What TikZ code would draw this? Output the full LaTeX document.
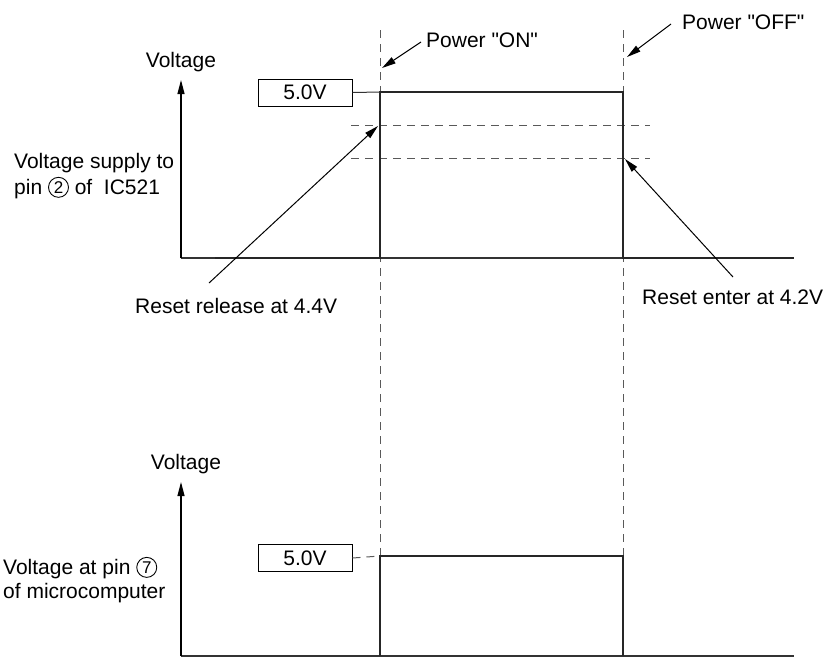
\documentclass[tikz,border=0pt]{standalone}
\usepackage{fontspec}
\setmainfont{Liberation Sans}[Ligatures=TeXOff]
\usetikzlibrary{arrows.meta}
\newcommand{\circd}[1]{\tikz[baseline={([yshift=-1.5pt]cd.base)}]\node[circle, draw, line width=0.9pt, inner sep=0pt, minimum size=20pt, font=\fontsize{17}{17}\selectfont] (cd) {#1};}
\begin{document}
\begin{tikzpicture}[x=1pt,y=-1pt, font=\fontsize{21}{25}\selectfont,
 sig/.style={line width=2.8pt, line join=miter, draw=black!85},
 thinln/.style={line width=1.1pt, draw=black!80},
 guide/.style={dash pattern=on 8pt off 6pt, line width=1pt, draw=black!65},
 lbl/.style={inner sep=0pt, anchor=west},
 vbox/.style={draw, line width=1pt, minimum width=94pt, minimum height=27pt, inner sep=0pt},
 ax/.style={line width=1.1pt, -{Triangle[length=14pt,width=7pt]}},
 ptr/.style={line width=1pt, -{Triangle[length=14pt,width=7pt]}}]
\useasboundingbox (0,0) rectangle (826,657);

% ---------- upper diagram ----------
\coordinate (o1) at (181,258);
\coordinate (a1) at (181,80);
\coordinate (e1) at (794,258);
\draw[thinln] (o1) -- (e1);
\draw[ax] (o1) -- (a1);

% guides
\coordinate (gon) at (380,30);
\coordinate (goff) at (623,30);
\coordinate (gonb) at (380,556);
\coordinate (goffb) at (623,556);
\draw[guide] (gon) -- (gonb);
\draw[guide] (goff) -- (goffb);
\coordinate (h1a) at (351,125); \coordinate (h1b) at (650,125);
\coordinate (h2a) at (351,158); \coordinate (h2b) at (650,158);
\draw[guide] (h1a) -- (h1b);
\draw[guide] (h2a) -- (h2b);

% signal
\coordinate (s0) at (215,258);
\coordinate (s1) at (380,258);
\coordinate (s2) at (380,92);
\coordinate (s3) at (623,92);
\coordinate (s4) at (623,258);
\coordinate (s5) at (794,258);
\draw[sig] (s0) -- (s1) -- (s2) -- (s3) -- (s4) -- (s5);

\node[vbox] (b1) at (305,92.5) {5.0V};
\draw[thinln, line width=1pt] (b1.east) -- (s2);

\node[inner sep=0pt] (v1) at (181,62) {Voltage};
\node[lbl] (l1) at (14,163) {Voltage supply to};
\node[lbl] (l2) at (14,188) {pin \circd{2} of\ \ IC521};

\node[lbl] (pon) at (426,40) {Power "ON"};
\node[lbl] (poff) at (682,22) {Power "OFF"};
\coordinate (ponS) at (421,42);
\coordinate (ponT) at (382,68);
\coordinate (poffS) at (671,24);
\coordinate (poffT) at (627,57);
\draw[ptr] (ponS) -- (ponT);
\draw[ptr] (poffS) -- (poffT);

\node[lbl] (rr) at (135,306) {Reset release at 4.4V};
\node[lbl] (re) at (642,297) {Reset enter at 4.2V};
\coordinate (rrS) at (209,283);
\coordinate (rrT) at (378,126);
\coordinate (reS) at (733,277);
\coordinate (reT) at (625,159);
\draw[ptr] (rrS) -- (rrT);
\draw[ptr] (reS) -- (reT);

% ---------- lower diagram ----------
\coordinate (o2) at (181,656);
\coordinate (a2) at (181,482);
\coordinate (e2) at (794,656);
\draw[thinln] (o2) -- (e2);
\draw[ax] (o2) -- (a2);

\coordinate (t1) at (380,656);
\coordinate (t2) at (380,556);
\coordinate (t3) at (623,556);
\coordinate (t4) at (623,656);
\draw[sig] (t1) -- (t2) -- (t3) -- (t4);

\node[vbox] (b2) at (305,558) {5.0V};
\draw[guide] (b2.east) -- (t2);

\node[inner sep=0pt] (v2) at (186,464) {Voltage};
\node[lbl] (l3) at (3,568) {Voltage at pin \circd{7}};
\node[lbl] (l4) at (3,593) {of microcomputer};
\end{tikzpicture}
\end{document}
